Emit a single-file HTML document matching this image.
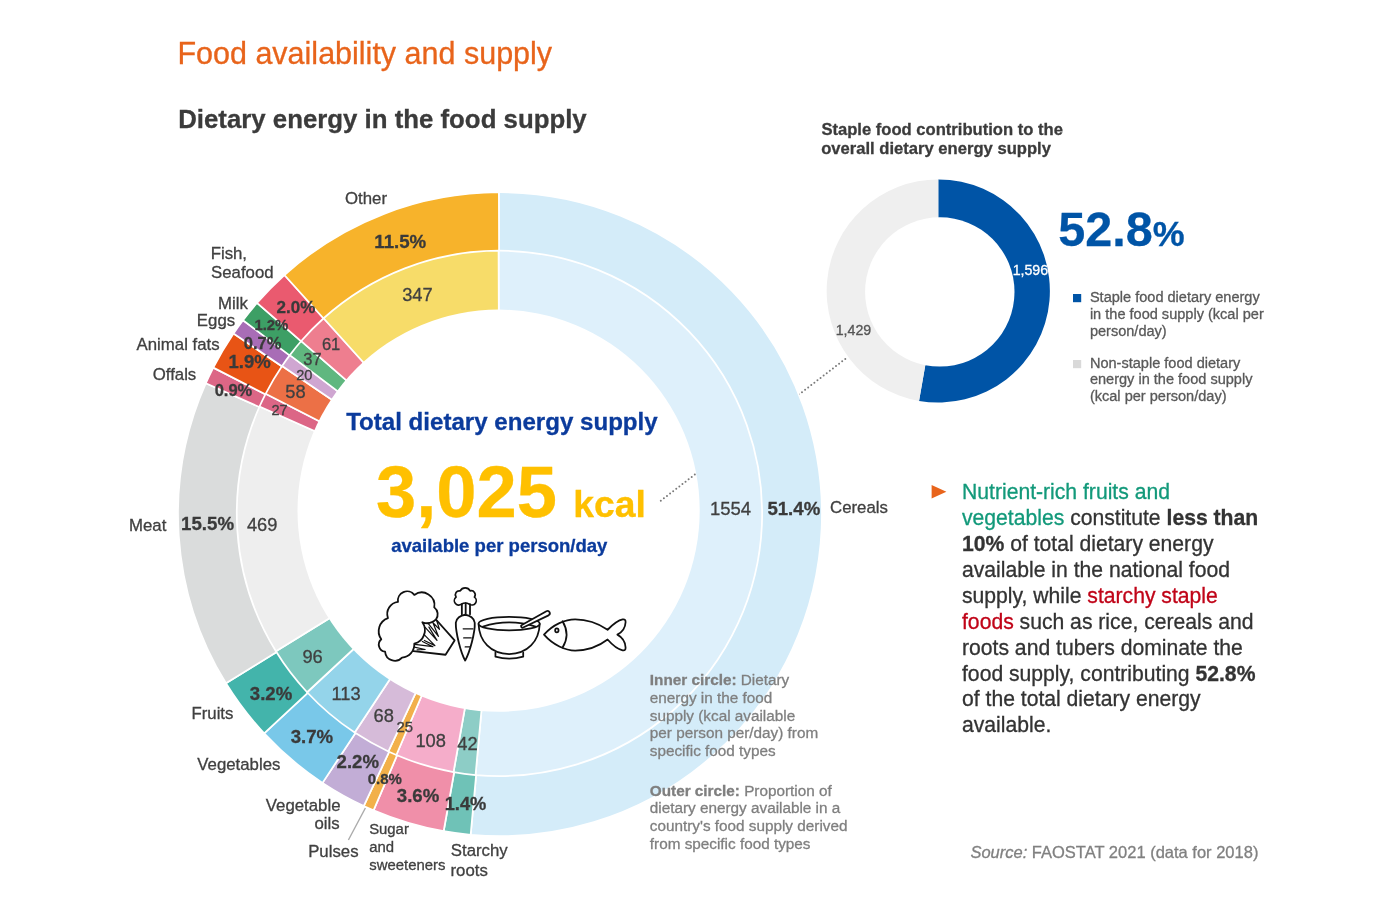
<!DOCTYPE html>
<html lang="en"><head><meta charset="utf-8"><title>Food availability and supply</title>
<style>
html,body{margin:0;padding:0;background:#fff}
body{width:1390px;height:909px;overflow:hidden;position:relative;font-family:"Liberation Sans",Arial,sans-serif}
svg{position:absolute;left:0;top:0;display:block}
svg text{font-family:"Liberation Sans",Arial,sans-serif;fill:#404040;stroke:#404040;stroke-width:0.3px}
.b{font-weight:bold}
.i{font-style:italic}
</style></head><body>
<svg width="1390" height="909" viewBox="0 0 1390 909">

<path d="M660.8,500.7L697.6,472.4M798.9,394.6L846.9,357.7" stroke="#7a7a7a" stroke-width="2" stroke-linecap="round" stroke-dasharray="0 3.9" fill="none"/>
<g stroke="#fff" stroke-width="1.75" stroke-linejoin="round">
<path d="M500.0,514.2L498.88,192.20A322.0,322.0 0 1 1 470.65,834.86Z" fill="#D4ECF9"/>
<path d="M500.0,514.2L470.65,834.86A322.0,322.0 0 0 1 443.64,831.23Z" fill="#6FC2B7"/>
<path d="M500.0,514.2L443.64,831.23A322.0,322.0 0 0 1 373.56,810.34Z" fill="#F08FA9"/>
<path d="M500.0,514.2L373.56,810.34A322.0,322.0 0 0 1 363.82,805.98Z" fill="#F2B04A"/>
<path d="M500.0,514.2L363.82,805.98A322.0,322.0 0 0 1 322.51,782.87Z" fill="#C2ADD6"/>
<path d="M500.0,514.2L322.51,782.87A322.0,322.0 0 0 1 264.16,733.43Z" fill="#79C8E9"/>
<path d="M500.0,514.2L264.16,733.43A322.0,322.0 0 0 1 225.95,683.26Z" fill="#43B4AB"/>
<path d="M500.0,514.2L225.95,683.26A322.0,322.0 0 0 1 205.86,383.18Z" fill="#DADCDC"/>
<path d="M500.0,514.2L205.86,383.18A322.0,322.0 0 0 1 213.30,367.61Z" fill="#DC6686"/>
<path d="M500.0,514.2L213.30,367.61A322.0,322.0 0 0 1 233.52,333.44Z" fill="#E85415"/>
<path d="M500.0,514.2L233.52,333.44A322.0,322.0 0 0 1 243.01,320.19Z" fill="#A86DB6"/>
<path d="M500.0,514.2L243.01,320.19A322.0,322.0 0 0 1 256.98,302.95Z" fill="#3D9F65"/>
<path d="M500.0,514.2L256.98,302.95A322.0,322.0 0 0 1 284.41,275.02Z" fill="#EA5A6F"/>
<path d="M500.0,514.2L284.41,275.02A322.0,322.0 0 0 1 498.88,192.20Z" fill="#F7B32B"/>
<path d="M499.5,513.4L498.58,250.70A262.7,262.7 0 1 1 475.55,775.01Z" fill="#DEF0FB"/>
<path d="M499.5,513.4L475.55,775.01A262.7,262.7 0 0 1 453.52,772.05Z" fill="#8DCDC6"/>
<path d="M499.5,513.4L453.52,772.05A262.7,262.7 0 0 1 396.35,755.00Z" fill="#F5ADCA"/>
<path d="M499.5,513.4L396.35,755.00A262.7,262.7 0 0 1 388.40,751.45Z" fill="#F2B04A"/>
<path d="M499.5,513.4L388.40,751.45A262.7,262.7 0 0 1 354.70,732.59Z" fill="#D6BBD9"/>
<path d="M499.5,513.4L354.70,732.59A262.7,262.7 0 0 1 307.09,692.26Z" fill="#94D4EA"/>
<path d="M499.5,513.4L307.09,692.26A262.7,262.7 0 0 1 275.92,651.32Z" fill="#7DC8BE"/>
<path d="M499.5,513.4L275.92,651.32A262.7,262.7 0 0 1 259.53,406.51Z" fill="#EEEEEE"/>
<path d="M499.5,513.4L259.53,406.51A262.7,262.7 0 0 1 265.60,393.81Z" fill="#DC6686"/>
<path d="M499.5,513.4L265.60,393.81A262.7,262.7 0 0 1 282.10,365.93Z" fill="#EC7046"/>
<path d="M499.5,513.4L282.10,365.93A262.7,262.7 0 0 1 289.84,355.12Z" fill="#CFA6D1"/>
<path d="M499.5,513.4L289.84,355.12A262.7,262.7 0 0 1 301.24,341.05Z" fill="#60B77F"/>
<path d="M499.5,513.4L301.24,341.05A262.7,262.7 0 0 1 323.62,318.27Z" fill="#EE7E8F"/>
<path d="M499.5,513.4L323.62,318.27A262.7,262.7 0 0 1 498.58,250.70Z" fill="#F7DC69"/>
</g>
<circle cx="498.6" cy="510.7" r="201.1" fill="#fff"/>
<path d="M660.8,500.7L697.6,472.4" stroke="#7a7a7a" stroke-width="2" stroke-linecap="round" stroke-dasharray="0 3.9" fill="none"/>
<path d="M938.3,291.0L938.30,179.40A111.6,111.6 0 1 1 919.04,400.93Z" fill="#0054A6"/>
<path d="M938.3,291.0L919.04,400.93A111.6,111.6 0 0 1 938.30,179.40Z" fill="#EFEFEF"/>
<circle cx="939.8" cy="291.9" r="74.7" fill="#fff"/>
<line x1="365.4" y1="808" x2="348.4" y2="840" stroke="#ababab" stroke-width="1.4"/>
<text x="177.42" y="63.7" font-size="30.5" style="fill:#E8641B;stroke:#E8641B">Food availability and supply</text>
<text x="178.18" y="127.6" font-size="25.8" class="b" style="fill:#3b3b3b;stroke:#3b3b3b">Dietary energy in the food supply</text>
<text x="346.16" y="429.7" font-size="24.1" class="b" style="fill:#0B3B9C;stroke:#0B3B9C">Total dietary energy supply</text>
<text x="375.99" y="517.2" font-size="72.3" class="b" style="fill:#FFC000;stroke:#FFC000">3,025</text>
<text x="573.19" y="517.2" font-size="37.3" class="b" style="fill:#FFC000;stroke:#FFC000">kcal</text>
<text x="391.14" y="552.3" font-size="18.55" class="b" style="fill:#0B3B9C;stroke:#0B3B9C">available per person/day</text>
<text x="345.04" y="204.4" font-size="16.8">Other</text>
<text x="210.66" y="259.1" font-size="16.8">Fish,</text>
<text x="211.04" y="278.4" font-size="16.8">Seafood</text>
<text x="217.96" y="308.6" font-size="16.8">Milk</text>
<text x="196.86" y="326.0" font-size="16.8">Eggs</text>
<text x="136.60" y="350.4" font-size="16.8">Animal fats</text>
<text x="152.74" y="380.0" font-size="16.8">Offals</text>
<text x="129.06" y="531.3" font-size="16.8">Meat</text>
<text x="191.46" y="718.7" font-size="16.8">Fruits</text>
<text x="197.32" y="770.1" font-size="16.8">Vegetables</text>
<text x="830.06" y="512.8" font-size="16.8">Cereals</text>
<text x="450.84" y="855.8" font-size="16.8">Starchy</text>
<text x="450.51" y="875.5" font-size="16.8">roots</text>
<text x="308.16" y="857.1" font-size="16.8">Pulses</text>
<text x="265.82" y="811" font-size="16.8">Vegetable</text>
<text x="314.39" y="828.7" font-size="16.8">oils</text>
<text x="369.13" y="834.1" font-size="14.9">Sugar</text>
<text x="369.20" y="852.1" font-size="14.9">and</text>
<text x="369.35" y="870.3" font-size="14.9">sweeteners</text>
<text x="402.17" y="300.9" font-size="18.3">347</text>
<text x="321.88" y="349.8" font-size="16.5">61</text>
<text x="303.24" y="365.2" font-size="16.5">37</text>
<text x="296.17" y="379.7" font-size="14.6">20</text>
<text x="285.27" y="397.6" font-size="18.3">58</text>
<text x="271.47" y="414.9" font-size="14.6">27</text>
<text x="246.93" y="530.5" font-size="18.3">469</text>
<text x="302.38" y="662.5" font-size="18.3">96</text>
<text x="331.43" y="699.5" font-size="18.3">113</text>
<text x="373.58" y="721.9" font-size="18.3">68</text>
<text x="396.56" y="732" font-size="14.9">25</text>
<text x="415.43" y="746.5" font-size="18.3">108</text>
<text x="457.33" y="750.2" font-size="18.3">42</text>
<text x="709.91" y="515.3" font-size="18.5">1554</text>
<text x="374.28" y="248.1" font-size="18.7" class="b" style="fill:#3a3a3a;stroke:#3a3a3a">11.5%</text>
<text x="276.50" y="312.6" font-size="17" class="b" style="fill:#3a3a3a;stroke:#3a3a3a">2.0%</text>
<text x="254.41" y="330.3" font-size="14.9" class="b" style="fill:#3a3a3a;stroke:#3a3a3a">1.2%</text>
<text x="243.84" y="348.5" font-size="16.5" class="b" style="fill:#3a3a3a;stroke:#3a3a3a">0.7%</text>
<text x="228.49" y="368.2" font-size="18.5" class="b" style="fill:#3a3a3a;stroke:#3a3a3a">1.9%</text>
<text x="214.64" y="396.1" font-size="16.5" class="b" style="fill:#3a3a3a;stroke:#3a3a3a">0.9%</text>
<text x="181.08" y="530.4" font-size="18.7" class="b" style="fill:#3a3a3a;stroke:#3a3a3a">15.5%</text>
<text x="249.84" y="699.5" font-size="18.6" class="b" style="fill:#3a3a3a;stroke:#3a3a3a">3.2%</text>
<text x="290.74" y="742.9" font-size="18.6" class="b" style="fill:#3a3a3a;stroke:#3a3a3a">3.7%</text>
<text x="336.55" y="767.5" font-size="18.6" class="b" style="fill:#3a3a3a;stroke:#3a3a3a">2.2%</text>
<text x="367.70" y="783.5" font-size="15" class="b" style="fill:#3a3a3a;stroke:#3a3a3a">0.8%</text>
<text x="396.84" y="801.6" font-size="18.6" class="b" style="fill:#3a3a3a;stroke:#3a3a3a">3.6%</text>
<text x="444.70" y="809.9" font-size="18.3" class="b" style="fill:#3a3a3a;stroke:#3a3a3a">1.4%</text>
<text x="767.44" y="515.3" font-size="18.6" class="b" style="fill:#3a3a3a;stroke:#3a3a3a">51.4%</text>
<text x="649.80" y="685.0" font-size="15.3" class="b" style="fill:#7f7f7f;stroke:#7f7f7f">Inner circle:<tspan font-weight="normal"> Dietary</tspan></text>
<text x="649.80" y="702.8" font-size="15.3" style="fill:#7f7f7f;stroke:#7f7f7f">energy in the food</text>
<text x="649.80" y="720.5" font-size="15.3" style="fill:#7f7f7f;stroke:#7f7f7f">supply (kcal available</text>
<text x="649.80" y="738.2" font-size="15.3" style="fill:#7f7f7f;stroke:#7f7f7f">per person per/day) from</text>
<text x="649.80" y="756.0" font-size="15.3" style="fill:#7f7f7f;stroke:#7f7f7f">specific food types</text>
<text x="649.80" y="795.5" font-size="15.3" class="b" style="fill:#7f7f7f;stroke:#7f7f7f">Outer circle:<tspan font-weight="normal"> Proportion of</tspan></text>
<text x="649.80" y="813.3" font-size="15.3" style="fill:#7f7f7f;stroke:#7f7f7f">dietary energy available in a</text>
<text x="649.80" y="831.1" font-size="15.3" style="fill:#7f7f7f;stroke:#7f7f7f">country's food supply derived</text>
<text x="649.80" y="848.9" font-size="15.3" style="fill:#7f7f7f;stroke:#7f7f7f">from specific food types</text>
<text x="821.40" y="134.8" font-size="16.6" class="b" style="fill:#3b3b3b;stroke:#3b3b3b">Staple food contribution to the</text>
<text x="821.24" y="153.5" font-size="16.6" class="b" style="fill:#3b3b3b;stroke:#3b3b3b">overall dietary energy supply</text>
<text x="1058.35" y="245.9" font-size="48.5" class="b" style="fill:#0054A6;stroke:#0054A6">52.8<tspan font-size="35.8">%</tspan></text>
<text x="1012.63" y="275" font-size="14.2" style="fill:#fff;stroke:#fff">1,596</text>
<text x="835.73" y="335" font-size="14.2" style="fill:#555;stroke:#555">1,429</text>
<rect x="1073" y="294" width="8.2" height="8.2" fill="#0054A6"/>
<rect x="1073" y="360" width="8.2" height="8.2" fill="#D9D9D9"/>
<text x="1089.90" y="302.4" font-size="14.55" style="fill:#595959;stroke:#595959">Staple food dietary energy</text>
<text x="1089.90" y="319.1" font-size="14.55" style="fill:#595959;stroke:#595959">in the food supply (kcal per</text>
<text x="1089.90" y="335.8" font-size="14.55" style="fill:#595959;stroke:#595959">person/day)</text>
<text x="1089.90" y="367.5" font-size="14.55" style="fill:#595959;stroke:#595959">Non-staple food dietary</text>
<text x="1089.90" y="384.1" font-size="14.55" style="fill:#595959;stroke:#595959">energy in the food supply</text>
<text x="1089.90" y="400.6" font-size="14.55" style="fill:#595959;stroke:#595959">(kcal per person/day)</text>
<path d="M931.6,485.1L946.4,491.8L931.6,498.5Z" fill="#E8641B"/>
<text x="962.00" y="499.0" font-size="21.15" style="fill:#333;stroke:#333"><tspan style="fill:#12997A;stroke:#12997A">Nutrient-rich fruits and</tspan></text>
<text x="962.00" y="524.9" font-size="21.15" style="fill:#333;stroke:#333"><tspan style="fill:#12997A;stroke:#12997A">vegetables</tspan> constitute <tspan font-weight="bold">less than</tspan></text>
<text x="962.00" y="550.9" font-size="21.15" class="b" style="fill:#333;stroke:#333">10%<tspan font-weight="normal"> of total dietary energy</tspan></text>
<text x="962.00" y="576.8" font-size="21.15" style="fill:#333;stroke:#333">available in the national food</text>
<text x="962.00" y="602.7" font-size="21.15" style="fill:#333;stroke:#333">supply, while <tspan style="fill:#C00418;stroke:#C00418">starchy staple</tspan></text>
<text x="962.00" y="628.6" font-size="21.15" style="fill:#333;stroke:#333"><tspan style="fill:#C00418;stroke:#C00418">foods</tspan> such as rice, cereals and</text>
<text x="962.00" y="654.6" font-size="21.15" style="fill:#333;stroke:#333">roots and tubers dominate the</text>
<text x="962.00" y="680.5" font-size="21.15" style="fill:#333;stroke:#333">food supply, contributing <tspan font-weight="bold">52.8%</tspan></text>
<text x="962.00" y="706.4" font-size="21.15" style="fill:#333;stroke:#333">of the total dietary energy</text>
<text x="962.00" y="732.4" font-size="21.15" style="fill:#333;stroke:#333">available.</text>
<text x="970.40" y="857.7" font-size="16.5" class="i" style="fill:#808080;stroke:#808080">Source:<tspan font-style="normal"> FAOSTAT 2021 (data for 2018)</tspan></text>
<g transform="translate(370,580) scale(0.10071)" fill="none" stroke="#111" stroke-width="18" stroke-linecap="round" stroke-linejoin="round">
<path d="M655,392L840,600L750,742L432,706" fill="#fff"/>
<path fill="#fff" d="M150,712A71,71 0 0 1 112,588A138,138 0 0 1 178,378A121,121 0 0 1 278,218A91,91 0 0 1 440,148A126,126 0 0 1 638,272A86,86 0 0 1 655,392Q600,448 520,420A137,137 0 0 1 440,632A131,131 0 0 1 318,770A97,97 0 0 1 150,712Z"/>
<path d="M575,428L680,560L625,425L690,490L662,402M548,470L665,600L585,468M535,540L645,652L540,600M520,610L625,662L445,640M440,666L548,690L468,694" stroke-width="12"/>
<path transform="translate(945,240) scale(0.93,0.94) translate(-945,-240)" fill="#fff" d="M905,240 A45,45 0 0 1 848,165 A42,42 0 0 1 892,100 A60,60 0 0 1 998,100 A42,42 0 0 1 1044,165 A45,45 0 0 1 990,240 Q945,215 905,240Z"/>
<path d="M912,240V340M950,230V338M993,240V340"/>
<path fill="#fff" d="M945,345C900,350 855,380 852,425C850,520 900,720 945,800C990,720 1045,520 1040,425C1037,380 990,350 945,345Z"/>
<path d="M925,485H1022M930,575H1005M945,665H990" stroke-width="12"/>
</g>
<g transform="translate(470,590) scale(0.12231)" fill="none" stroke="#111" stroke-width="14.5" stroke-linecap="round" stroke-linejoin="round">
<path fill="#fff" d="M208,512V545Q320,578 435,545V512"/>
<path fill="#fff" d="M70,278C75,420 170,522 320,524C470,522 565,420 570,278"/>
<ellipse cx="320" cy="275" rx="250" ry="55" fill="#fff"/>
<path d="M106,299Q320,232 536,299"/>
<g transform="translate(534,242) rotate(-27.5)"><path d="M-118,-12L112,-19A19,19 0 0 1 112,19L-118,12A12,12 0 0 1 -118,-12Z" fill="#fff"/></g>
<path fill="#fff" d="M605,365C680,280 780,240 860,240C960,240 1060,280 1125,325C1160,290 1212,248 1248,241Q1274,236 1272,264C1270,308 1246,344 1205,365C1246,388 1270,426 1272,470Q1274,498 1248,493C1212,486 1160,445 1125,405C1060,455 960,495 860,495C780,495 680,450 605,365Z"/>
<path d="M757,255Q822,365 757,470"/>
<ellipse cx="710" cy="330" rx="14" ry="17"/>
</g>
</svg></body></html>
